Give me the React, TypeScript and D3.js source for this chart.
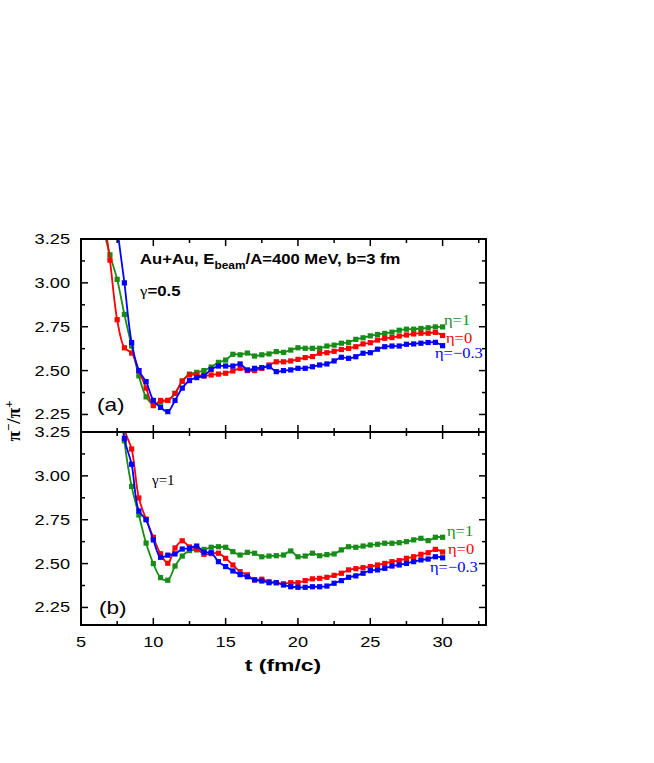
import React from "react";
import * as d3 from "d3";

// ---------- data ----------
const tTop = [6.5, 7, 7.5, 8, 8.5, 9, 9.5, 10, 10.5, 11, 11.5, 12, 12.5, 13, 13.5, 14, 14.5, 15, 15.5, 16, 16.5, 17, 17.5, 18, 18.5, 19, 19.5, 20, 20.5, 21, 21.5, 22, 22.5, 23, 23.5, 24, 24.5, 25, 25.5, 26, 26.5, 27, 27.5, 28, 28.5, 29, 29.5, 30];
const topEta1 = [3.32, 3.16, 3.02, 2.82, 2.64, 2.47, 2.35, 2.31, 2.32, 2.33, 2.37, 2.44, 2.48, 2.49, 2.50, 2.52, 2.547, 2.56, 2.593, 2.59, 2.60, 2.583, 2.59, 2.595, 2.608, 2.604, 2.617, 2.63, 2.627, 2.627, 2.627, 2.64, 2.645, 2.656, 2.661, 2.678, 2.687, 2.698, 2.706, 2.712, 2.719, 2.73, 2.736, 2.736, 2.74, 2.744, 2.749, 2.749];
const topEta0 = [3.42, 3.13, 2.79, 2.63, 2.60, 2.50, 2.40, 2.30, 2.33, 2.33, 2.37, 2.44, 2.475, 2.475, 2.47, 2.475, 2.48, 2.485, 2.498, 2.513, 2.50, 2.50, 2.513, 2.532, 2.55, 2.55, 2.555, 2.564, 2.574, 2.58, 2.599, 2.602, 2.61, 2.62, 2.627, 2.636, 2.652, 2.659, 2.674, 2.684, 2.688, 2.697, 2.703, 2.709, 2.713, 2.713, 2.718, 2.70];
const topEtaM03 = [null, 3.75, 3.32, 3.00, 2.66, 2.50, 2.437, 2.33, 2.29, 2.266, 2.33, 2.40, 2.443, 2.46, 2.47, 2.507, 2.526, 2.526, 2.526, 2.538, 2.504, 2.513, 2.517, 2.522, 2.494, 2.50, 2.504, 2.513, 2.513, 2.522, 2.532, 2.538, 2.555, 2.576, 2.57, 2.579, 2.599, 2.602, 2.622, 2.636, 2.64, 2.64, 2.65, 2.652, 2.656, 2.66, 2.661, 2.642];

const tBot = [7.5, 8, 8.5, 9, 9.5, 10, 10.5, 11, 11.5, 12, 12.5, 13, 13.5, 14, 14.5, 15, 15.5, 16, 16.5, 17, 17.5, 18, 18.5, 19, 19.5, 20, 20.5, 21, 21.5, 22, 22.5, 23, 23.5, 24, 24.5, 25, 25.5, 26, 26.5, 27, 27.5, 28, 28.5, 29, 29.5, 30];
const botEta1 = [3.65, 3.20, 2.94, 2.777, 2.617, 2.50, 2.42, 2.405, 2.486, 2.543, 2.574, 2.578, 2.581, 2.593, 2.596, 2.593, 2.568, 2.549, 2.564, 2.559, 2.539, 2.543, 2.545, 2.549, 2.572, 2.539, 2.543, 2.559, 2.545, 2.551, 2.555, 2.578, 2.596, 2.593, 2.60, 2.606, 2.61, 2.616, 2.616, 2.619, 2.625, 2.635, 2.644, 2.631, 2.65, 2.65];
const botEta0 = [3.80, 3.27, 3.153, 2.874, 2.753, 2.65, 2.556, 2.502, 2.589, 2.63, 2.595, 2.585, 2.553, 2.557, 2.559, 2.53, 2.492, 2.454, 2.436, 2.407, 2.411, 2.397, 2.391, 2.385, 2.391, 2.391, 2.403, 2.413, 2.416, 2.422, 2.433, 2.445, 2.464, 2.471, 2.477, 2.483, 2.492, 2.501, 2.511, 2.517, 2.53, 2.539, 2.553, 2.562, 2.581, 2.566];
const botEtaM03 = [3.75, 3.214, 3.066, 2.80, 2.75, 2.635, 2.536, 2.548, 2.555, 2.583, 2.587, 2.60, 2.565, 2.562, 2.511, 2.483, 2.458, 2.437, 2.425, 2.407, 2.401, 2.391, 2.391, 2.378, 2.368, 2.365, 2.365, 2.368, 2.368, 2.372, 2.388, 2.403, 2.422, 2.43, 2.445, 2.46, 2.464, 2.473, 2.486, 2.492, 2.501, 2.511, 2.521, 2.526, 2.539, 2.533];

const xMajorTicks = [5, 10, 15, 20, 25, 30];
const xMinorTicks = [7.5, 12.5, 17.5, 22.5, 27.5, 32.5];
const yMajorTicks = [2.25, 2.5, 2.75, 3.0, 3.25];
const yMinorTicks = [2.375, 2.625, 2.875, 3.125];
const seriesLabels = ["η=1", "η=0", "η=−0.3"];
const seriesColors = ["#178c17", "#ff0000", "#0000ff"];

// ---------- layout ----------
const W = 654, H = 763;
const L = 81, R = 486;
const panels = [
  { top: 239, bottom: 432, t: tTop, series: [topEta1, topEta0, topEtaM03], tag: "(a)", clip: "clipA" },
  { top: 432, bottom: 625, t: tBot, series: [botEta1, botEta0, botEtaM03], tag: "(b)", clip: "clipB" },
];

const x = d3.scaleLinear().domain([5, 33]).range([L, R]);

function T({ x: px, y: py, sx = 1, anchor = "start", size = 14, weight = "normal", family = "Liberation Sans, Arial, sans-serif", fill = "#000", rotate = 0, children }: any) {
  return (
    <g transform={`translate(${px},${py}) rotate(${rotate}) scale(${sx},1)`}>
      <text textAnchor={anchor} fontSize={size} fontWeight={weight} fontFamily={family} fill={fill}>
        {children}
      </text>
    </g>
  );
}

const SANS = "Liberation Sans, Arial, sans-serif";
const SERIF = "Liberation Serif, Times New Roman, serif";

function Panel({ p, idx }: any) {
  const y = d3.scaleLinear().domain([2.15, 3.25]).range([p.bottom, p.top]);
  const line = d3
    .line<[number, number]>()
    .x((d) => x(d[0]))
    .y((d) => y(d[1]))
    .curve(d3.curveCatmullRom.alpha(0.5));
  const maj = 7, min = 4;
  return (
    <g>
      <defs>
        <clipPath id={p.clip}>
          <rect x={L} y={p.top} width={R - L} height={p.bottom - p.top} />
        </clipPath>
      </defs>
      <g clipPath={`url(#${p.clip})`}>
        {p.series.map((vals: (number | null)[], si: number) => {
          const pts: [number, number][] = p.t
            .map((t: number, i: number) => [t, vals[i]] as [number, number | null])
            .filter((d: any) => d[1] !== null) as [number, number][];
          return (
            <g key={si}>
              <path d={line(pts) || ""} fill="none" stroke={seriesColors[si]} strokeWidth={1.8} />
              {pts.map((d, i) => (
                <rect key={i} x={x(d[0]) - 2.6} y={y(d[1]) - 2.6} width={5.2} height={5.2} fill={seriesColors[si]} />
              ))}
            </g>
          );
        })}
      </g>
      {/* ticks */}
      {xMajorTicks.concat(xMinorTicks).map((t, i) => {
        const len = xMajorTicks.includes(t) ? maj : min;
        return (
          <g key={"x" + i}>
            <line x1={x(t)} x2={x(t)} y1={p.bottom} y2={p.bottom - len} stroke="#000" strokeWidth={1.5} />
            <line x1={x(t)} x2={x(t)} y1={p.top} y2={p.top + len} stroke="#000" strokeWidth={1.5} />
          </g>
        );
      })}
      {yMajorTicks.concat(yMinorTicks).map((v, i) => {
        const len = yMajorTicks.includes(v) ? maj : min;
        return (
          <g key={"y" + i}>
            <line x1={L} x2={L + len} y1={y(v)} y2={y(v)} stroke="#000" strokeWidth={1.5} />
            <line x1={R} x2={R - len} y1={y(v)} y2={y(v)} stroke="#000" strokeWidth={1.5} />
          </g>
        );
      })}
      <rect x={L} y={p.top} width={R - L} height={p.bottom - p.top} fill="none" stroke="#000" strokeWidth={2} />
      {yMajorTicks.map((v, i) => (
        <T key={"yl" + i} x={70} y={y(v) + 5} sx={1.3} anchor="end" size={14} family={SANS}>
          {v.toFixed(2)}
        </T>
      ))}
      <T x={idx === 0 ? 97 : 99} y={p.bottom - (idx === 0 ? 21 : 11)} sx={1.19} size={19} family={SANS}>
        {p.tag}
      </T>
    </g>
  );
}

export default function App() {
  return (
    <svg width={W} height={H} style={{ position: "absolute", left: 0, top: 0, background: "#fff" }}>
      <rect x={0} y={0} width={W} height={H} fill="#fff" />
      {panels.map((p, i) => (
        <Panel key={i} p={p} idx={i} />
      ))}
      {/* x tick labels */}
      {xMajorTicks.map((t, i) => (
        <T key={i} x={x(t)} y={647} sx={1.3} anchor="middle" size={14} family={SANS}>
          {t}
        </T>
      ))}
      <T x={283} y={671} sx={1.35} anchor="middle" size={17} weight="bold" family={SANS}>
        t (fm/c)
      </T>
      {/* y axis label */}
      <g transform="translate(20,421) rotate(-90)">
        <text textAnchor="middle" fontSize={19} fontWeight="bold" fontFamily={SERIF}>
          π<tspan dy={-7} fontSize={13}>−</tspan>
          <tspan dy={7}>/π</tspan>
          <tspan dy={-7} fontSize={13}>+</tspan>
        </text>
      </g>
      {/* annotations top */}
      <g transform="translate(140,264) scale(1.19,1)">
        <text fontSize={14} fontWeight="bold" fontFamily={SANS}>
          Au+Au, E<tspan dy={5} fontSize={10}>beam</tspan>
          <tspan dy={-5}>/A=400 MeV, b=3 fm</tspan>
        </text>
      </g>
      <g transform="translate(140,296) scale(1.2,1)">
        <text fontSize={14}>
          <tspan fontFamily={SERIF}>γ</tspan>
          <tspan fontFamily={SANS} fontWeight="bold">=0.5</tspan>
        </text>
      </g>
      <T x={152} y={485} size={15} family={SERIF}>
        γ=1
      </T>
      {/* series labels */}
      <T x={444} y={325} sx={1.1} size={15} family={SERIF} fill={seriesColors[0]}>{seriesLabels[0]}</T>
      <T x={446} y={343} sx={1.1} size={15} family={SERIF} fill={seriesColors[1]}>{seriesLabels[1]}</T>
      <T x={435} y={358} sx={1.1} size={15} family={SERIF} fill={seriesColors[2]}>{seriesLabels[2]}</T>
      <T x={447} y={536} sx={1.1} size={15} family={SERIF} fill={seriesColors[0]}>{seriesLabels[0]}</T>
      <T x={448} y={554} sx={1.1} size={15} family={SERIF} fill={seriesColors[1]}>{seriesLabels[1]}</T>
      <T x={430} y={572} sx={1.1} size={15} family={SERIF} fill={seriesColors[2]}>{seriesLabels[2]}</T>
    </svg>
  );
}
